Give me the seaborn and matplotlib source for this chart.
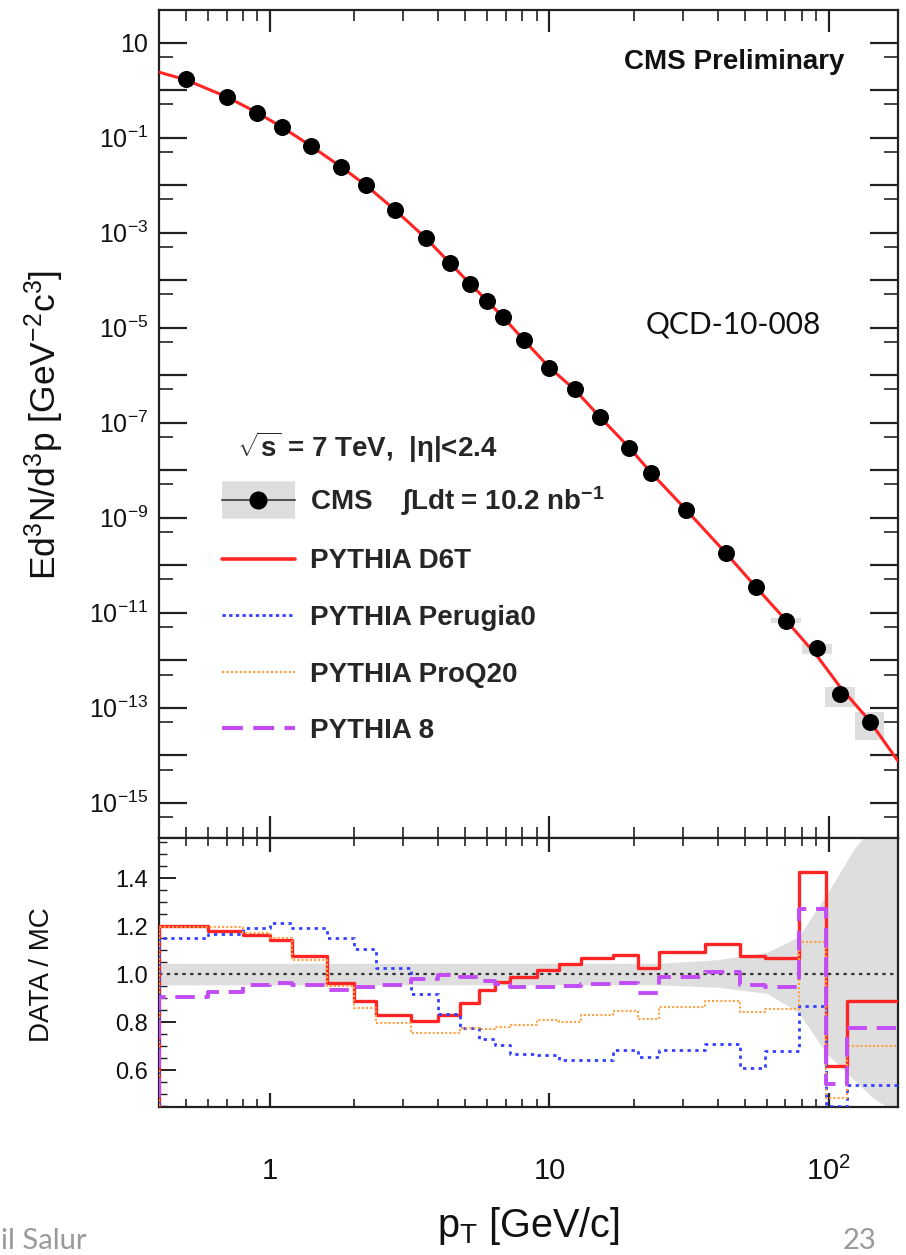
import numpy as np
import pandas as pd
import matplotlib
matplotlib.use("Agg")
import matplotlib.pyplot as plt
import seaborn as sns
from matplotlib.lines import Line2D
from matplotlib.legend_handler import HandlerTuple
from matplotlib.font_manager import FontProperties
from matplotlib.ticker import FixedLocator, FixedFormatter, NullFormatter

# ---------------- data ----------------
pt_centers = [0.5, 0.7, 0.9, 1.1, 1.4, 1.8, 2.2, 2.8, 3.6, 4.4, 5.2, 6.0, 6.8, 8.1,
              10.0, 12.3, 15.2, 19.3, 23.1, 30.9, 42.9, 54.8, 70.3, 90.6, 110.0, 140.0]
cms_yield = [1.72, 0.73, 0.336, 0.171, 0.068, 0.0238, 0.00995, 3.0e-3, 7.7e-4, 2.3e-4,
             8.4e-5, 3.6e-5, 1.7e-5, 5.5e-6, 1.44e-6, 5.0e-7, 1.32e-7, 2.98e-8, 8.9e-9,
             1.45e-9, 1.78e-10, 3.5e-11, 6.8e-12, 1.78e-12, 1.9e-13, 5.1e-14]
cms_rel_err = [0.045, 0.045, 0.045, 0.045, 0.045, 0.045, 0.045, 0.045, 0.045, 0.045,
               0.045, 0.045, 0.045, 0.045, 0.045, 0.045, 0.045, 0.045, 0.045, 0.05,
               0.06, 0.08, 0.12, 0.25, 0.45, 0.6]

d6t_pt = [0.4, 0.5, 0.7, 0.9, 1.1, 1.4, 1.8, 2.2, 2.8, 3.6, 4.4, 5.2, 6.0, 6.8, 8.1, 10.0,
          12.3, 15.2, 19.3, 23.1, 30.9, 42.9, 54.8, 70.3, 90.6, 110.0, 140.0, 177.0]
d6t_val = [2.4, 1.65, 0.72, 0.335, 0.168, 0.067, 0.0240, 0.0100, 3.0e-3, 7.8e-4, 2.3e-4,
           8.4e-5, 3.6e-5, 1.7e-5, 5.5e-6, 1.45e-6, 5.0e-7, 1.30e-7, 3.0e-8, 8.9e-9,
           1.45e-9, 1.78e-10, 3.5e-11, 6.9e-12, 1.25e-12, 2.7e-13, 5.3e-14, 7.5e-15]

bin_edges = [0.4, 0.6, 0.8, 1.0, 1.2, 1.6, 2.0, 2.4, 3.2, 4.0, 4.8, 5.6, 6.4, 7.2, 9.0,
             10.8, 13.0, 16.9, 20.8, 24.6, 36.0, 48.0, 59.0, 78.0, 98.0, 116.0, 177.0]
ratio_d6t = [1.20, 1.18, 1.163, 1.14, 1.075, 0.964, 0.889, 0.83, 0.804, 0.829, 0.878, 0.933,
             0.968, 0.989, 1.017, 1.042, 1.065, 1.079, 1.026, 1.09, 1.125, 1.075, 1.065,
             1.424, 0.618, 0.889]
ratio_perugia0 = [1.149, 1.165, 1.19, 1.211, 1.19, 1.149, 1.103, 1.026, 0.917, 0.833, 0.774,
                  0.728, 0.704, 0.667, 0.662, 0.642, 0.642, 0.683, 0.655, 0.683, 0.708, 0.607,
                  0.68, 0.868, 0.45, 0.537]
ratio_proq20 = [1.195, 1.195, 1.17, 1.149, 1.058, 0.95, 0.857, 0.795, 0.755, 0.755, 0.774,
                0.77, 0.778, 0.787, 0.808, 0.801, 0.829, 0.847, 0.811, 0.864, 0.887, 0.843,
                0.854, 1.135, 0.482, 0.70]
ratio_pythia8 = [0.903, 0.926, 0.954, 0.964, 0.954, 0.933, 0.944, 0.954, 0.978, 0.996, 0.989,
                 0.972, 0.958, 0.947, 0.944, 0.95, 0.958, 0.964, 0.922, 0.989, 1.01, 0.954,
                 0.947, 1.27, 0.542, 0.776]

band_pt = [0.4, 25.0, 40.0, 60.0, 78.0, 98.0, 123.0, 145.0, 177.0]
band_up = [1.045, 1.045, 1.06, 1.09, 1.155, 1.33, 1.52, 1.62, 1.66]
band_lo = [0.955, 0.955, 0.945, 0.92, 0.84, 0.67, 0.56, 0.48, 0.42]

model_names = ["PYTHIA D6T", "PYTHIA Perugia0", "PYTHIA ProQ20", "PYTHIA 8"]
x_tick_vals = [1.0, 10.0, 100.0]
x_tick_labels = ["1", "10", r"$10^{2}$"]
r_tick_vals = [0.6, 0.8, 1.0, 1.2, 1.4]
r_tick_labels = ["0.6", "0.8", "1.0", "1.2", "1.4"]

# ---------------- style ----------------
sns.set_style("ticks")
plt.rcParams["font.family"] = ["Liberation Sans", "DejaVu Sans"]
plt.rcParams["mathtext.default"] = "regular"
plt.rcParams["mathtext.fontset"] = "custom"
plt.rcParams["mathtext.rm"] = "Liberation Sans"
plt.rcParams["mathtext.it"] = "Liberation Sans:italic"
plt.rcParams["mathtext.bf"] = "Liberation Sans:bold"

RED = "#ff2525"
BLUE = "#3340ff"
ORANGE = "#ffa040"
MAGENTA = "#c24cf5"
BAND = "#dedede"
FRAME = "#222222"
TXT = "#111111"

W, H = 906, 1255
fig = plt.figure(figsize=(W / 100, H / 100), dpi=100)
fig.patch.set_facecolor("white")

L, R = 159, 898
ax1 = fig.add_axes([L / W, 1 - 838 / H, (R - L) / W, 828 / H])
ax2 = fig.add_axes([L / W, 1 - 1107 / H, (R - L) / W, 269 / H])
ax1.set_xscale("log")
ax1.set_yscale("log")
ax2.set_xscale("log")

XLIM = (0.4, 177.0)

# ---------------- top panel ----------------
# data uncertainty boxes (centred on each point)
for c, v, e in zip(pt_centers, cms_yield, cms_rel_err):
    hw = 1.06 if e < 0.1 else 1.13
    ax1.fill_between([c / hw, c * hw], [v * (1 - e)] * 2, [v * (1 + e)] * 2,
                     color=BAND, lw=0, zorder=1)

df_d6t = pd.DataFrame({"pt": d6t_pt, "val": d6t_val})
sns.lineplot(data=df_d6t, x="pt", y="val", ax=ax1, color=RED, linewidth=2.2,
             estimator=None, sort=False, legend=False, zorder=3)

df_cms = pd.DataFrame({"pt": pt_centers, "val": cms_yield})
sns.scatterplot(data=df_cms, x="pt", y="val", ax=ax1, color="black", s=150,
                edgecolor="black", linewidth=0, legend=False, zorder=4)

ax1.set_xlim(*XLIM)
ax1.set_ylim(10 ** -15.743, 10 ** 1.688)

ydec = list(range(-16, 2))
ax1.yaxis.set_major_locator(FixedLocator([10.0 ** k for k in ydec]))
ylabels = []
for k in ydec:
    if k == 1:
        ylabels.append("10")
    elif k % 2 != 0:
        ylabels.append(r"$10^{%d}$" % k)
    else:
        ylabels.append("")
ax1.yaxis.set_major_formatter(FixedFormatter(ylabels))
ax1.yaxis.set_minor_locator(FixedLocator([5 * 10.0 ** k for k in ydec]))
ax1.yaxis.set_minor_formatter(NullFormatter())

xmin = [m * 10.0 ** k for k in (-1, 0, 1, 2) for m in range(2, 10)]
for ax in (ax1, ax2):
    ax.xaxis.set_major_locator(FixedLocator(x_tick_vals))
    ax.xaxis.set_minor_locator(FixedLocator(xmin))
    ax.xaxis.set_minor_formatter(NullFormatter())

ax1.xaxis.set_major_formatter(NullFormatter())
ax1.set_xlabel("")
ax1.set_ylabel("")
ax1.tick_params(axis="both", which="both", direction="in", top=True, right=True,
                colors=FRAME)
ax1.tick_params(axis="y", which="major", length=20, width=1.6, labelsize=18, pad=8,
                labelcolor=TXT)
ax1.tick_params(axis="y", which="minor", length=10, width=1.2)
ax1.tick_params(axis="x", which="major", length=16, width=1.6)
ax1.tick_params(axis="x", which="minor", length=8, width=1.2)

# texts
ax1.text(0.928, 0.937, "CMS Preliminary", transform=ax1.transAxes, ha="right",
         va="center", fontsize=20, fontweight="bold", color=TXT)
ax1.text(0.658, 0.62, "QCD-10-008", transform=ax1.transAxes, ha="left", va="center",
         fontsize=21.5, family=["Lato", "DejaVu Sans"], color=TXT)

# legend
bold = FontProperties(family="Liberation Sans", weight="bold", size=20)
handles = [
    (Line2D([], [], color=BAND, lw=27, solid_capstyle="butt"),
     Line2D([], [], color="#555555", lw=1.5, marker="o", markersize=12,
            markerfacecolor="black", markeredgecolor="black")),
    Line2D([], [], color=RED, lw=2.6),
    Line2D([], [], color=BLUE, lw=2.0, linestyle=(0, (1.2, 1.2))),
    Line2D([], [], color=ORANGE, lw=1.6, linestyle=(0, (1.0, 1.0))),
    Line2D([], [], color=MAGENTA, lw=3.0, linestyle=(0, (5, 2.5))),
]
labels = [r"CMS    $\int$Ldt = 10.2 nb$^{-1}$"] + model_names
leg = ax1.legend(handles, labels, handler_map={tuple: HandlerTuple(ndivide=1)},
                 loc="upper left", bbox_to_anchor=(0.085, 0.494), frameon=False,
                 prop=bold, title=r"  $\sqrt{s}$ = 7 TeV,  |$\eta$|<2.4",
                 title_fontproperties=bold, alignment="left", handlelength=2.63,
                 handletextpad=0.54, labelspacing=1.1, borderpad=0, borderaxespad=0)
leg._legend_box.sep = 14

# ---------------- ratio panel ----------------
ax2.fill_between(band_pt, band_lo, band_up, color=BAND, lw=0, zorder=1)
ax2.axhline(1.0, color="#333333", lw=1.6, linestyle=(0, (1.5, 2.0)), zorder=2)

ratio_sets = [ratio_d6t, ratio_perugia0, ratio_proq20, ratio_pythia8]
styles = [
    dict(color=RED, linewidth=2.4, linestyle="-"),
    dict(color=BLUE, linewidth=2.0, linestyle=(0, (1.2, 1.6))),
    dict(color=ORANGE, linewidth=1.5, linestyle=(0, (1.0, 1.0))),
    dict(color=MAGENTA, linewidth=2.8, linestyle=(0, (5, 2.5))),
]
for name, vals, st in zip(model_names, ratio_sets, styles):
    xs = [bin_edges[0]] + list(bin_edges)
    ys = [0.0] + list(vals) + [vals[-1]]
    dfr = pd.DataFrame({"pt": xs, "ratio": ys})
    sns.lineplot(data=dfr, x="pt", y="ratio", ax=ax2, estimator=None, sort=False,
                 legend=False, drawstyle="steps-post", zorder=3, **st)

ax2.set_xlim(*XLIM)
ax2.set_ylim(0.446, 1.567)
ax2.yaxis.set_major_locator(FixedLocator(r_tick_vals))
ax2.yaxis.set_major_formatter(FixedFormatter(r_tick_labels))
ax2.yaxis.set_minor_locator(FixedLocator([0.45 + 0.05 * i for i in range(23)]))
ax2.xaxis.set_major_locator(FixedLocator(x_tick_vals))
ax2.xaxis.set_major_formatter(FixedFormatter(x_tick_labels))
ax2.set_xlabel("")
ax2.set_ylabel("")
ax2.tick_params(axis="both", which="both", direction="in", top=True, right=True,
                colors=FRAME)
ax2.tick_params(axis="y", which="major", length=12, width=1.4, labelsize=17, pad=8,
                labelcolor=TXT)
ax2.tick_params(axis="y", which="minor", length=6, width=1.0)
ax2.tick_params(axis="x", which="major", length=10, width=1.6, labelsize=21, pad=36,
                labelcolor=TXT)
ax2.tick_params(axis="x", which="minor", length=6, width=1.2)

for ax in (ax1, ax2):
    for sp in ax.spines.values():
        sp.set_color(FRAME)
        sp.set_linewidth(1.6)
        sp.set_visible(True)

# axis titles
fig.text(44 / W, 1 - 425 / H, r"Ed$^{3}$N/d$^{3}$p [GeV$^{-2}$c$^{3}$]", rotation=90,
         ha="center", va="center", fontsize=25.5, color=TXT)
fig.text(42 / W, 1 - 975 / H, "DATA / MC", rotation=90, ha="center", va="center",
         fontsize=20, color=TXT)
fig.text(528 / W, 1 - 1226 / H, r"p$_{T}$ [GeV/c]", ha="center", va="center",
         fontsize=28.5, color=TXT)

# slide footer remnants
fig.text(1 / W, 1 / H, "il Salur", ha="left", va="bottom", fontsize=21,
         family=["Lato", "DejaVu Sans"], color="#9a9a9a")
fig.text(876 / W, 1 / H, "23", ha="right", va="bottom", fontsize=21,
         family=["Lato", "DejaVu Sans"], color="#9a9a9a")

fig.savefig("out.png", dpi=100, facecolor="white")
